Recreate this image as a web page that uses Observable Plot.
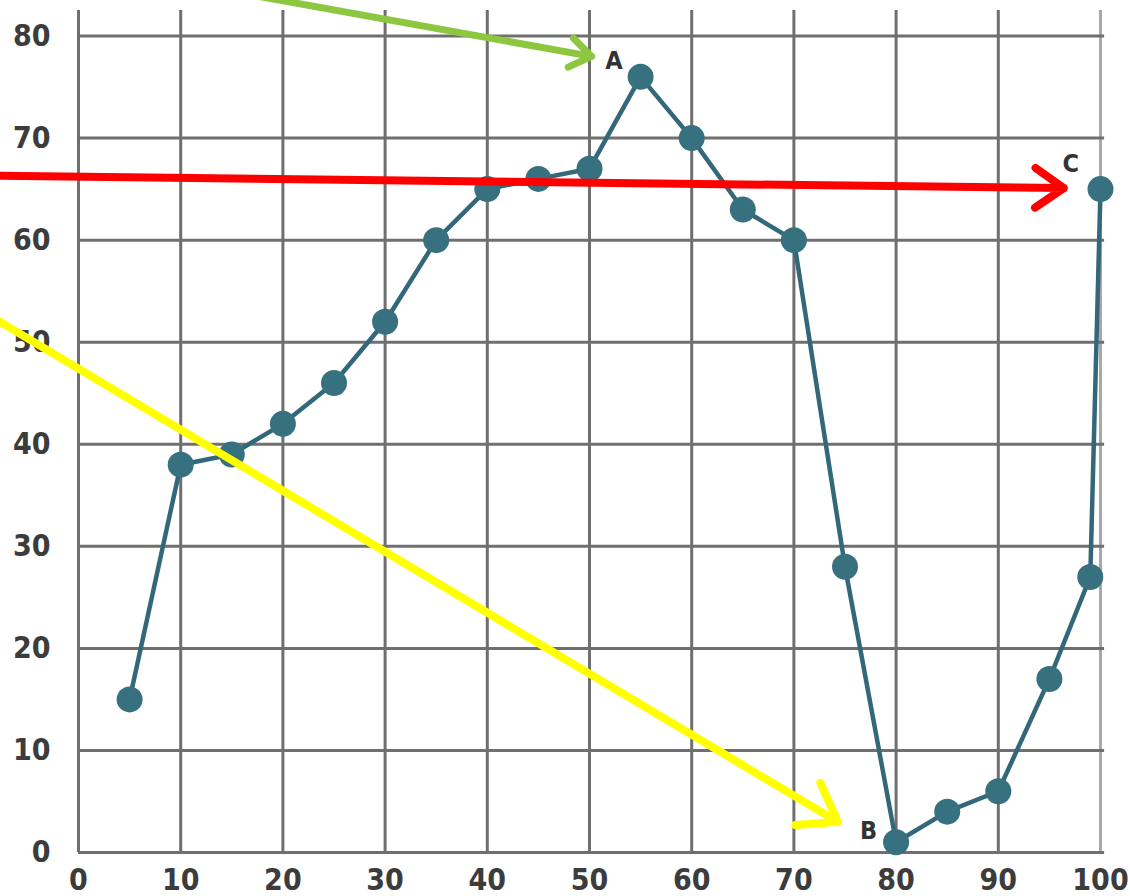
<!DOCTYPE html>
<html>
<head>
<meta charset="utf-8">
<script src="https://cdn.jsdelivr.net/npm/d3@7"></script>
<script src="https://cdn.jsdelivr.net/npm/@observablehq/plot@0.6"></script>
<style>
  html, body { margin: 0; padding: 0; background: #fff; }
  #chart { width: 1130px; height: 896px; overflow: hidden; }
  svg { overflow: visible; }
</style>
</head>
<body>
<div id="chart"></div>
<script>
// Series
const xValues = [5, 10, 15, 20, 25, 30, 35, 40, 45, 50, 55, 60, 65, 70, 75, 80, 85, 90, 95, 99, 100];
const yValues = [15, 38, 39, 42, 46, 52, 60, 65, 66, 67, 76, 70, 63, 60, 28, 1, 4, 6, 17, 27, 65];

// Ticks
const xTicks = [0, 10, 20, 30, 40, 50, 60, 70, 80, 90, 100];
const yTicks = [0, 10, 20, 30, 40, 50, 60, 70, 80];

// Point labels
const labelText = ["A", "B", "C"];
const labelX = [52.4, 77.3, 97.1];
const labelY = [77.6, 2.1, 67.5];

// Annotation arrows (data coordinates)
const arrowColor = ["#8dc63f", "#ff0000", "#ffff00"];
const arrowX1 = [17.0, -7.7, -7.7];
const arrowY1 = [84.0, 66.3, 52.0];
const arrowX2 = [50.2, 96.4, 74.3];
const arrowY2 = [78.0, 65.1, 3.0];
const arrowWidth = [7, 8, 8];
const arrowHead = [5.5, 6.5, 8];

const points = xValues.map((x, i) => ({x, y: yValues[i]}));
const labels = labelText.map((t, i) => ({t, x: labelX[i], y: labelY[i]}));

const font = "'DejaVu Sans Condensed', 'Liberation Sans Narrow', sans-serif";

const chart = Plot.plot({
  width: 1130,
  height: 896,
  marginLeft: 78,
  marginRight: 30,
  marginTop: 10,
  marginBottom: 44,
  style: {fontFamily: font, background: "#fff"},
  x: {domain: [0, 100], axis: null},
  y: {domain: [0, 82.5], axis: null},
  marks: [
    Plot.ruleX(xTicks, {x: d => d, y1: 0, y2: 82.5, stroke: d => d === 100 ? "#a8a8a8" : "#6f6f6f", strokeWidth: 3}),
    Plot.ruleY(yTicks, {y: d => d, x1: 0, x2: 100.4, stroke: "#6f6f6f", strokeWidth: 3}),
    Plot.axisX(xTicks, {tickSize: 0, tickPadding: 16, fontSize: 30, fontWeight: "bold", fill: "#3c3c3c", label: null, tickFormat: d => String(d), ariaLabel: "xaxis"}),
    Plot.axisY(yTicks, {tickSize: 0, tickPadding: 28, fontSize: 30, fontWeight: "bold", fill: "#3c3c3c", label: null, tickFormat: d => String(d), ariaLabel: "yaxis"}),
    Plot.line(points, {x: "x", y: "y", stroke: "#33677a", strokeWidth: 4.5}),
    Plot.dot(points, {x: "x", y: "y", r: 13, fill: "#37707f", stroke: "none"}),
    Plot.text(labels, {x: "x", y: "y", text: "t", fontSize: 25, fontWeight: "bold", fill: "#333", ariaLabel: "ptlabels"}),
    ...arrowColor.map((c, i) => Plot.arrow([i], {
      x1: () => arrowX1[i], y1: () => arrowY1[i], x2: () => arrowX2[i], y2: () => arrowY2[i],
      stroke: c, strokeWidth: arrowWidth[i], headLength: arrowHead[i], headAngle: 70,
      strokeLinecap: "round", strokeLinejoin: "round", clip: false
    }))
  ]
});

// Narrow the tick and label text to mimic the condensed face of the original
chart.querySelectorAll('g[aria-label="xaxis"] text, g[aria-label="yaxis"] text, g[aria-label="ptlabels"] text').forEach(t => {
  const tr = t.getAttribute("transform") || "";
  t.setAttribute("transform", tr + " scale(0.72,1)");
});

document.getElementById("chart").appendChild(chart);
</script>
</body>
</html>
